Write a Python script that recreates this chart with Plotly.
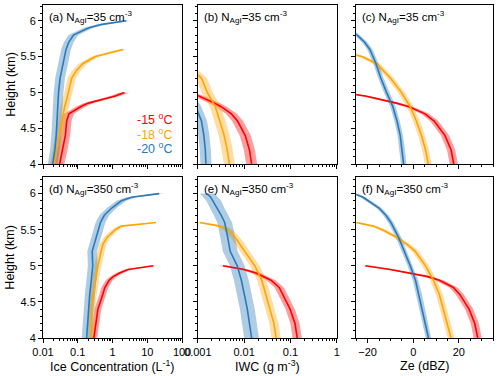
import plotly.graph_objects as go
from plotly.subplots import make_subplots

# heights (km) for each seeding temperature
H15 = [4.0, 4.2, 4.4, 4.6, 4.7, 4.8, 4.85, 4.9, 4.95, 5.0]
H18 = [4.0, 4.2, 4.4, 4.6, 4.8, 5.0, 5.2, 5.3, 5.4, 5.5, 5.55, 5.6]
H20 = [4.0, 4.2, 4.4, 4.6, 4.8, 5.0, 5.2, 5.4, 5.6, 5.7, 5.8, 5.9, 5.95, 6.0]

# (a) ice concentration, N_AgI=35
ICE35_15 = [0.030, 0.037, 0.044, 0.048, 0.056, 0.12, 0.2, 0.5, 1.2, 2.2]
ICE35_18 = [0.021, 0.025, 0.029, 0.034, 0.042, 0.054, 0.067, 0.09, 0.14, 0.32, 0.75, 2.0]
ICE35_20 = [0.019, 0.022, 0.024, 0.025, 0.026, 0.028, 0.031, 0.037, 0.046, 0.055, 0.075, 0.2, 0.5, 2.5]
# (b) IWC, N_AgI=35
IWC35_15 = [0.0145, 0.013, 0.0105, 0.0072, 0.0053, 0.0032, 0.0023, 0.0016, 0.00105, 0.0006]
IWC35_18 = [0.0048, 0.0043, 0.0037, 0.0030, 0.0024, 0.0016, 0.0012, 0.0008, 0.0005, 0.0003, 0.0002, 0.0001]
IWC35_20 = [0.0015, 0.00145, 0.00135, 0.0012, 0.0009, 0.0006, 0.0004, 0.0003, 0.0002, 0.0001, 0.0001, 0.0001, 0.0001, 0.0001]
# (c) Ze, N_AgI=35
ZE35_15 = [17.8, 16.6, 13.9, 9.2, 5.2, -1.8, -7.3, -13.5, -21, -32]
ZE35_18 = [6.6, 5.4, 3.6, 1.4, -1.3, -5.2, -10.0, -12.8, -16.0, -22.5, -28, -35]
ZE35_20 = [-4.2, -4.8, -5.7, -7.1, -8.9, -11.7, -14.2, -16.3, -19.0, -21.3, -24.6, -29, -32, -36]
# (d) ice concentration, N_AgI=350
ICE350_15 = [0.29, 0.33, 0.38, 0.52, 0.6, 0.8, 1.05, 1.6, 2.8, 15]
ICE350_18 = [0.25, 0.25, 0.25, 0.28, 0.32, 0.38, 0.47, 0.53, 0.72, 1.2, 1.8, 18]
ICE350_20 = [0.18, 0.19, 0.205, 0.22, 0.245, 0.27, 0.26, 0.34, 0.45, 0.58, 0.95, 1.8, 3.5, 22]
# (e) IWC, N_AgI=350
IWC350_15 = [0.14, 0.125, 0.098, 0.068, 0.057, 0.038, 0.027, 0.018, 0.010, 0.0035]
IWC350_18 = [0.049, 0.044, 0.036, 0.029, 0.024, 0.017, 0.0104, 0.0083, 0.0063, 0.0045, 0.003, 0.0011]
IWC350_20 = [0.0145, 0.013, 0.0117, 0.0101, 0.0087, 0.0071, 0.0050, 0.0044, 0.0038, 0.0032, 0.0026, 0.0022, 0.0019, 0.0016]
# (f) Ze, N_AgI=350
ZE350_15 = [28.3, 27.0, 24.5, 20.5, 17.6, 11.5, 6.5, -2, -10, -21]
ZE350_18 = [16.6, 15.0, 13.4, 11.5, 8.9, 5.4, 0.9, -2.8, -7.5, -13.5, -17.5, -25]
ZE350_20 = [6.7, 5.3, 4.0, 2.7, 1.0, -1.3, -3.9, -6.5, -9.8, -12.0, -15.0, -19.5, -22, -26]

# spread half-widths (log10 decades for log panels, dBZ for Ze)
SPREAD = {
    'a': [0.14, 0.12, 0.14], 'b': [0.12, 0.12, 0.12], 'c': [1.8, 1.5, 1.2],
    'd': [0.10, 0.10, 0.14], 'e': [0.10, 0.10, 0.16], 'f': [1.8, 1.5, 1.2],
}

TEMPS = ['-15 <sup>o</sup>C', '-18 <sup>o</sup>C', '-20 <sup>o</sup>C']
COLORS = ['#ff0000', '#ffa500', '#2a7ab9']
BANDS = ['rgba(255,0,0,0.38)', 'rgba(255,175,40,0.42)', 'rgba(42,122,185,0.38)']

ICE_TICKS = [0.01, 0.1, 1, 10, 100]
ICE_LABELS = ['0.01', '0.1', '1', '10', '100']
IWC_TICKS = [0.001, 0.01, 0.1, 1]
IWC_LABELS = ['0.001', '0.01', '0.1', '1']
ZE_TICKS = [-20, 0, 20]
ZE_LABELS = ['\u221220', '0', '20']
H_TICKS = [4, 4.5, 5, 5.5, 6]
H_LABELS = ['4', '4.5', '5', '5.5', '6']
X_TITLES = ['Ice Concentration (L<sup>-1</sup>)', 'IWC (g m<sup>-3</sup>)', 'Ze (dBZ)']

PANELS = [
    ('a', 1, 1, 'log', [ICE35_15, ICE35_18, ICE35_20], '35'),
    ('b', 1, 2, 'log', [IWC35_15, IWC35_18, IWC35_20], '35'),
    ('c', 1, 3, 'lin', [ZE35_15, ZE35_18, ZE35_20], '35'),
    ('d', 2, 1, 'log', [ICE350_15, ICE350_18, ICE350_20], '350'),
    ('e', 2, 2, 'log', [IWC350_15, IWC350_18, IWC350_20], '350'),
    ('f', 2, 3, 'lin', [ZE350_15, ZE350_18, ZE350_20], '350'),
]
HEIGHTS = [H15, H18, H20]

FONT = 'Liberation Sans, Arial, sans-serif'


def log_minor(lo, hi):
    vals = []
    for e in range(lo, hi):
        for m in range(2, 10):
            vals.append(m * 10 ** e)
    return vals


fig = make_subplots(rows=2, cols=3)

for tag, r, c, kind, series, n in PANELS:
    # bands first
    for i in range(3):
        h = HEIGHTS[i]
        x = series[i]
        s = SPREAD[tag][i]
        if kind == 'log':
            lo = [v / 10 ** s for v in x]
            hi = [v * 10 ** s for v in x]
        else:
            lo = [v - s for v in x]
            hi = [v + s for v in x]
        fig.add_trace(go.Scatter(x=lo + hi[::-1], y=h + h[::-1], fill='toself', fillcolor=BANDS[i],
                                 line=dict(width=0), mode='lines', hoverinfo='skip', showlegend=False),
                      row=r, col=c)
    for i in range(3):
        fig.add_trace(go.Scatter(x=series[i], y=HEIGHTS[i], mode='lines',
                                 line=dict(color=COLORS[i], width=1.6), showlegend=False),
                      row=r, col=c)

xdom = [[0, 0.309], [0.344, 0.653], [0.696, 1]]
ydom = [[0.5225, 1], [0, 0.4835]]

axis_common = dict(showline=True, linecolor='black', linewidth=1, mirror=True, ticks='outside',
                   ticklen=4, tickcolor='black', showgrid=False, zeroline=False,
                   tickfont=dict(size=11, color='black'), automargin=False)

for tag, r, c, kind, series, n in PANELS:
    idx = (r - 1) * 3 + c
    xa = 'xaxis' if idx == 1 else 'xaxis%d' % idx
    ya = 'yaxis' if idx == 1 else 'yaxis%d' % idx
    if c == 1:
        xopt = dict(type='log', range=[-2, 2], tickvals=ICE_TICKS, ticktext=ICE_LABELS,
                    minor=dict(ticks='outside', ticklen=2, tickcolor='black', tickvals=log_minor(-2, 2)))
    elif c == 2:
        xopt = dict(type='log', range=[-3, 0], tickvals=IWC_TICKS, ticktext=IWC_LABELS,
                    minor=dict(ticks='outside', ticklen=2, tickcolor='black', tickvals=log_minor(-3, 0)))
    else:
        xopt = dict(type='linear', range=[-25, 35], tickvals=ZE_TICKS, ticktext=ZE_LABELS,
                    minor=dict(ticks='outside', ticklen=2, tickcolor='black', dtick=5))
    xopt.update(axis_common)
    xopt['domain'] = xdom[c - 1]
    xopt['showticklabels'] = (r == 2)
    fig.layout[xa].update(xopt)

    yopt = dict(range=[4, 6.22] if r == 1 else [4, 6.23], tickvals=H_TICKS, ticktext=H_LABELS,
                minor=dict(ticks='outside', ticklen=2, tickcolor='black', dtick=0.1),
                domain=ydom[r - 1], showticklabels=(c == 1))
    yopt.update(axis_common)
    fig.layout[ya].update(yopt)

    # panel label
    fig.add_annotation(x=0.03, y=0.985, xref='%s domain' % xa.replace('axis', ''),
                       yref='%s domain' % ya.replace('axis', ''),
                       text='(%s) N<sub>AgI</sub>=%s cm<sup>-3</sup>' % (tag, n),
                       showarrow=False, xanchor='left', yanchor='top',
                       font=dict(size=11.5, color='black'))

# axis titles
for c in range(3):
    fig.add_annotation(x=(xdom[c][0] + xdom[c][1]) / 2, y=-0.083, xref='paper', yref='paper',
                       text=X_TITLES[c], showarrow=False, xanchor='center', yanchor='middle',
                       font=dict(size=12.5, color='black'))
for r in range(2):
    fig.add_annotation(x=-0.073, y=(ydom[r][0] + ydom[r][1]) / 2, xref='paper', yref='paper',
                       text='Height (km)', textangle=-90, showarrow=False,
                       xanchor='center', yanchor='middle', font=dict(size=12.5, color='black'))

# temperature labels in panel (a)
for i, (t, col) in enumerate(zip(TEMPS, COLORS)):
    fig.add_annotation(x=0.945, y=0.28 - i * 0.09, xref='x domain', yref='y domain', text=t,
                       showarrow=False, xanchor='right', yanchor='middle',
                       font=dict(size=12.5, color=col))

fig.update_layout(width=500, height=376, margin=dict(l=43, r=7, t=5, b=38),
                  plot_bgcolor='white', paper_bgcolor='white',
                  font=dict(family=FONT, color='black'), showlegend=False)

# the page body has a default 8px margin; drop it so the figure sits at the window origin
fig.write_html("out.html", config={'displayModeBar': False},
               post_script="document.body.style.margin='0';")
